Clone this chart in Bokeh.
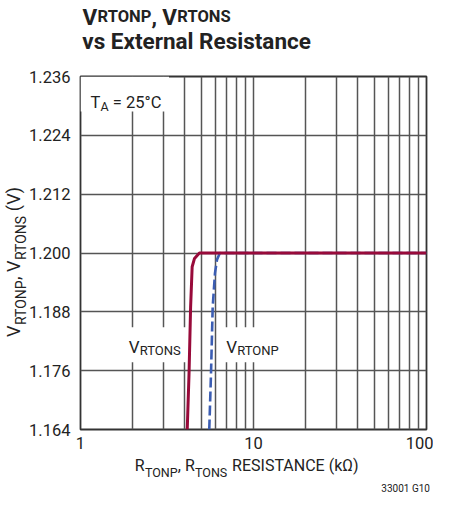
from bokeh.plotting import figure
from bokeh.models import FixedTicker, Label, Range1d, PrintfTickFormatter, LinearAxis
from bokeh.embed import file_html
from bokeh.resources import INLINE

# ---- data ----
x_ticks = [1, 10, 100]
x_tick_labels = {1: "1", 10: "10", 100: "100"}
x_grid = [1, 2, 3, 4, 5, 6, 7, 8, 9, 10, 20, 30, 40, 50, 60, 70, 80, 90, 100]
y_ticks = [1.164, 1.176, 1.188, 1.200, 1.212, 1.224, 1.236]

rtons_x = [4.14, 4.24, 4.33, 4.42, 4.56, 4.87, 100]
rtons_y = [1.164, 1.1754, 1.189, 1.1972, 1.1989, 1.2, 1.2]

rtonp_x = [5.55, 5.68, 5.81, 5.99, 6.15, 6.39, 100]
rtonp_y = [1.164, 1.1754, 1.189, 1.1959, 1.1986, 1.2, 1.2]

FONT = "Roboto"
RED = "#980a3a"
BLUE = "#3b5db3"
GRID = "#555555"
TXT = "#222222"

W, H = 433, 496
# frame position in page pixels (page = canvas + 8)
PX0, PX1, PY0, PY1 = 82, 426, 77, 429
FL, FR, FT, FB = PX0 - 8, PX1 - 8, PY0 - 8, PY1 - 8   # canvas
PAD = {"below": 1, "above": 0, "left": 0}             # extra space per text axis

p = figure(width=W, height=H, x_axis_type="log",
           x_range=Range1d(1, 100), y_range=Range1d(1.164, 1.236),
           output_backend="svg", toolbar_location=None,
           min_border_left=FL, min_border_right=7,
           min_border_top=FT, min_border_bottom=H - 8 - FB)
p.title.visible = False
p.outline_line_color = "#333333"
p.outline_line_width = 1.8
p.background_fill_color = "white"
p.border_fill_color = "white"

NUM_SIZE = 16.5
p.xaxis.ticker = FixedTicker(ticks=x_ticks, minor_ticks=[])
p.xaxis.major_label_overrides = x_tick_labels
p.yaxis.ticker = FixedTicker(ticks=y_ticks, minor_ticks=[])
p.yaxis.formatter = PrintfTickFormatter(format="%.3f")
for ax in (p.xaxis, p.yaxis):
    ax.axis_line_color = None
    ax.major_tick_line_color = None
    ax.minor_tick_line_color = None
    ax.major_tick_out = 0
    ax.major_tick_in = 0
    ax.minor_tick_out = 0
    ax.major_label_text_font = FONT
    ax.major_label_text_font_size = f"{NUM_SIZE}px"
    ax.major_label_text_color = TXT
XNUM_SO = 7
p.xaxis.major_label_standoff = XNUM_SO
p.yaxis.major_label_standoff = 10

p.xgrid.ticker = FixedTicker(ticks=x_grid)
p.ygrid.ticker = FixedTicker(ticks=y_ticks)
for g in (p.xgrid, p.ygrid):
    g.grid_line_color = GRID
    g.grid_line_width = 1.5


def dx(px):
    return 10 ** ((px - PX0) / (PX1 - PX0) * 2)


def dy(py):
    return 1.236 - (py - PY0) / (PY1 - PY0) * 0.072


# white boxes behind in-plot labels (cover grid lines)
p.quad(left=[dx(PX0), dx(127), dx(220)], right=[dx(170), dx(188), dx(289)],
       top=[dy(PY0), dy(327), dy(327)], bottom=[dy(112), dy(362), dy(362)],
       fill_color="white", line_color=None)

p.line(rtonp_x, rtonp_y, line_color=BLUE, line_width=2.6, line_dash="10 4")
p.line(rtons_x, rtons_y, line_color=RED, line_width=3)

# approximate Roboto advance widths (em) for laying out text pieces
WR = {" ": .248, ",": .196, "(": .342, ")": .348, "=": .55, "°": .38, "Ω": .67,
      "A": .652, "C": .652, "E": .568, "I": .272, "N": .713, "O": .688,
      "P": .631, "R": .616, "S": .593, "T": .597, "V": .636, "k": .507,
      "G": .68, ".": .263}
WB = {" ": .25, ",": .22, "V": .65, "R": .63, "T": .61, "O": .69, "N": .71,
      "P": .64, "S": .61, "E": .57, "v": .51, "s": .52, "x": .52, "t": .33,
      "e": .54, "r": .35, "n": .56, "a": .54, "l": .27, "i": .26, "c": .52}
ASC, DESC = 0.928, 0.244


def width(text, size, bold=False):
    tab = WB if bold else WR
    return sum(tab.get(ch, .562) for ch in text) * size


def layout(pieces, start, bold=False):
    """pieces: (text, size, group). Returns {group: [(text, center)]}."""
    out = {}
    pos = start
    for text, size, group in pieces:
        lead = len(text) - len(text.lstrip())
        core = text.strip()
        lw = width(text[:lead], size, bold)
        cw = width(core, size, bold)
        out.setdefault(group, []).append((core, pos + lw + cw / 2))
        pos += width(text, size, bold)
    return out


def text_axis(side, items, to_data, size, standoff, bold=False, vertical=False):
    ticks = [round(to_data(c), 9) for _, c in items]
    ax = LinearAxis(ticker=FixedTicker(ticks=ticks, minor_ticks=[]),
                    major_label_overrides={t: s for t, (s, _) in zip(ticks, items)},
                    axis_line_color=None, major_tick_line_color=None,
                    minor_tick_line_color=None, major_tick_out=0, major_tick_in=0,
                    minor_tick_out=0, minor_tick_in=0,
                    major_label_standoff=int(standoff),
                    major_label_text_font=FONT,
                    major_label_text_font_size=f"{size}px",
                    major_label_text_font_style="bold" if bold else "normal",
                    major_label_text_color=TXT)
    if vertical:
        ax.major_label_orientation = "vertical"
    p.add_layout(ax, side)
    return ax


# ---------- below: numbers, main x label, subscripts, figure code ----------
edge = FB + XNUM_SO + (ASC + DESC) * NUM_SIZE + PAD["below"]
xl = layout([("R", 16, "m"), ("TONP", 12.5, "s"), (", ", 16, "m"), ("R", 16, "m"),
             ("TONS", 12.5, "s"), (" RESISTANCE (kΩ)", 16, "m")], 136)
for grp, size, base in (("m", 16, 475.5 - 8), ("s", 12.5, 478.5 - 8)):
    so = round(base - ASC * size - edge)
    text_axis("below", xl[grp], dx, size, so)
    edge += so + (ASC + DESC) * size + PAD["below"]
code = layout([("33001 G10", 10, "m")], 381)
so = round(492 - 8 - ASC * 10 - edge)
text_axis("below", code["m"], dx, 10, so)

# ---------- above: title ----------
edge = FT
TS, SS = 22.5, 16.5
so = round(edge - (48.3 - 8 + DESC * TS))
text_axis("above", layout([("vs External Resistance", TS, "m")], 83, True)["m"],
          dx, TS, so, bold=True)
edge -= so + (ASC + DESC) * TS + PAD["above"]
tl = layout([("V", TS, "m"), ("RTONP", SS, "s"), (", ", TS, "m"), ("V", TS, "m"),
             ("RTONS", SS, "s")], 84, True)
for grp, size, base in (("m", TS, 26.7 - 8), ("s", SS, 27.7 - 8)):
    so = round(edge - (base + DESC * size))
    text_axis("above", tl[grp], dx, size, so, bold=True)
    edge -= so + (ASC + DESC) * size + PAD["above"]

# ---------- left: rotated y axis label ----------
YM, YS = 18, 14
edge = FL - 10 - width("1.236", NUM_SIZE) - PAD["left"]
ypieces = [("V", YM, "m"), ("RTONP", YS, "s"), (", ", YM, "m"), ("V", YM, "m"),
           ("RTONS", YS, "s"), (" (V)", YM, "m")]
total = sum(width(t, s) for t, s, _ in ypieces)
yl = layout(ypieces, 0)
ybottom = 262 + total / 2          # page y where the label starts (reads upward)
for grp, size, base in (("s", YS, 30 - 8), ("m", YM, 27 - 8)):
    items = [(t, ybottom - c) for t, c in yl[grp]]
    so = round(edge - (base + DESC * size))
    text_axis("left", items, dy, size, so, vertical=True)
    edge -= so + (ASC + DESC) * size + PAD["left"]


# ---------- labels inside the frame ----------
def put(text, px, py, size):
    p.add_layout(Label(x=dx(px), y=dy(py), text=text, text_font=FONT,
                       text_font_size=f"{size}px", text_color=TXT,
                       text_align="left", text_baseline="alphabetic"))


def run(pieces, px, py):
    pos = px
    for text, size, shift in pieces:
        lead = len(text) - len(text.lstrip())
        put(text.strip(), pos + width(text[:lead], size), py + shift, size)
        pos += width(text, size)


run([("T", 16.5, 0), ("A", 12.5, 4), (" = 25°C", 16.5, 0)], 92, 103)
run([("V", 17, 0), ("RTONS", 13, 3)], 130, 347)
run([("V", 17, 0), ("RTONP", 13, 3)], 227, 347)

open("out.html", "w").write(file_html(p, INLINE))
